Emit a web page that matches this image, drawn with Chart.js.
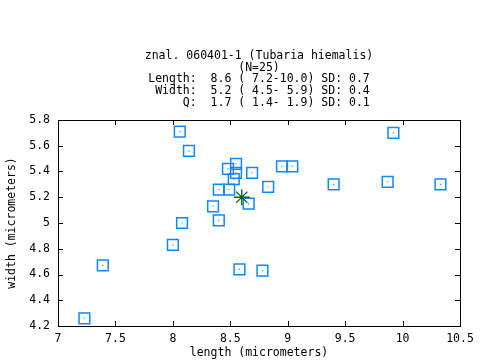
<!DOCTYPE html>
<html>
<head>
<meta charset="utf-8">
<script src="https://cdn.jsdelivr.net/npm/chart.js@4/dist/chart.umd.min.js"></script>
<style>
  html, body { margin: 0; padding: 0; background: #ffffff; }
  #wrap { width: 480px; height: 360px; }
</style>
</head>
<body>
<div id="wrap"><canvas id="chart" width="480" height="360"></canvas></div>
<script>
const lengths = [8.06, 8.14, 8.55, 8.48, 8.55, 8.69, 8.53, 8.40, 8.49, 8.66, 8.35, 8.83, 9.92,
                 8.95, 9.04, 9.40, 9.87, 10.33, 8.08, 8.40, 8.00, 7.39, 8.58, 8.78, 7.23];
const widths  = [5.71, 5.56, 5.46, 5.42, 5.39, 5.39, 5.34, 5.26, 5.26, 5.15, 5.13, 5.28, 5.70,
                 5.44, 5.44, 5.30, 5.32, 5.30, 5.00, 5.02, 4.83, 4.67, 4.64, 4.63, 4.26];

// mean point
const meanLength = [8.6];
const meanWidth  = [5.2];

// tick labels
const xTickLabels = ['7', '7.5', '8', '8.5', '9', '9.5', '10', '10.5'];
const yTickLabels = ['4.2', '4.4', '4.6', '4.8', '5', '5.2', '5.4', '5.6', '5.8'];

const titleLines = [
  'znal. 060401-1 (Tubaria hiemalis)',
  '(N=25)',
  'Length:  8.6 ( 7.2-10.0) SD: 0.7',
  ' Width:  5.2 ( 4.5- 5.9) SD: 0.4',
  '     Q:  1.7 ( 1.4- 1.9) SD: 0.1'
];

const mono = 'DejaVu Sans Mono';
const blue = '#1188ff';
const green = '#006400';

const toPoints = (xs, ys) => xs.map((x, i) => ({ x: x, y: ys[i] }));

// frame round the plot with gnuplot-style inward ticks on all four sides
const framePlugin = {
  id: 'frame',
  afterDraw(chart) {
    const { ctx, chartArea: a, scales } = chart;
    const len = 5;
    ctx.save();
    ctx.strokeStyle = '#000000';
    ctx.lineWidth = 1;
    ctx.beginPath();
    scales.x.ticks.forEach(t => {
      const px = Math.round(scales.x.getPixelForValue(t.value)) + 0.5;
      ctx.moveTo(px, a.bottom); ctx.lineTo(px, a.bottom - len);
      ctx.moveTo(px, a.top); ctx.lineTo(px, a.top + len);
    });
    scales.y.ticks.forEach(t => {
      const py = Math.round(scales.y.getPixelForValue(t.value)) + 0.5;
      ctx.moveTo(a.left, py); ctx.lineTo(a.left + len, py);
      ctx.moveTo(a.right, py); ctx.lineTo(a.right - len, py);
    });
    ctx.stroke();
    ctx.strokeRect(Math.round(a.left) + 0.5, Math.round(a.top) + 0.5,
                   Math.round(a.right - a.left), Math.round(a.bottom - a.top));
    ctx.restore();
  }
};

new Chart(document.getElementById('chart').getContext('2d'), {
  type: 'scatter',
  data: {
    datasets: [
      {
        label: 'mean',
        data: toPoints(meanLength, meanWidth),
        pointStyle: 'star',
        pointRadius: 8,
        borderColor: green,
        backgroundColor: green,
        borderWidth: 1.3
      },
      {
        label: 'spores',
        data: toPoints(lengths, widths),
        pointStyle: 'rect',
        pointRadius: 7.6,
        borderColor: blue,
        backgroundColor: 'rgba(0,0,0,0)',
        borderWidth: 1.5
      },
      {
        label: 'spore centres',
        data: toPoints(lengths, widths),
        pointStyle: 'rect',
        pointRadius: 0.8,
        borderWidth: 0,
        backgroundColor: blue
      }
    ]
  },
  options: {
    responsive: false,
    animation: false,
    layout: { padding: { top: 0, right: 20, bottom: 0, left: 0 } },
    plugins: {
      legend: { display: false },
      tooltip: { enabled: false },
      title: {
        display: true,
        fullSize: false,
        text: titleLines,
        color: '#000000',
        font: { family: mono, size: 11.5, weight: 'normal', lineHeight: '11.8px' },
        padding: { top: 50, bottom: 11 }
      }
    },
    scales: {
      x: {
        type: 'linear',
        min: 7,
        max: 10.5,
        afterFit(scale) { scale.height = 34; },
        grid: { display: false, drawTicks: false },
        border: { display: false },
        ticks: {
          stepSize: 0.5,
          padding: 6,
          color: '#000000',
          font: { family: mono, size: 11.5 },
          maxRotation: 0,
          callback: (v, i) => xTickLabels[i]
        },
        title: {
          display: true,
          text: 'length (micrometers)',
          color: '#000000',
          font: { family: mono, size: 11.5 },
          padding: { top: 0, bottom: 0 }
        }
      },
      y: {
        type: 'linear',
        min: 4.2,
        max: 5.8,
        afterFit(scale) { scale.width = 58; },
        grid: { display: false, drawTicks: false },
        border: { display: false },
        ticks: {
          stepSize: 0.2,
          padding: 8,
          color: '#000000',
          font: { family: mono, size: 11.5 },
          callback: (v, i) => yTickLabels[i]
        },
        title: {
          display: true,
          text: 'width (micrometers)',
          color: '#000000',
          font: { family: mono, size: 11.5 },
          padding: { top: 5, bottom: 0 }
        }
      }
    }
  },
  plugins: [framePlugin]
});
</script>
</body>
</html>
